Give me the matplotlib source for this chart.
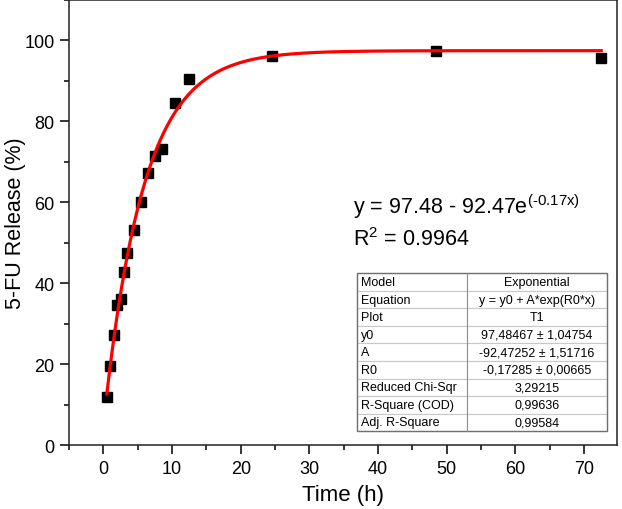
import numpy as np
import matplotlib.pyplot as plt
from matplotlib.patches import Rectangle

plt.rcParams['font.family'] = ['Liberation Sans', 'DejaVu Sans']
plt.rcParams['mathtext.default'] = 'regular'

# release data
time_h = [0.5, 1, 1.5, 2, 2.5, 3, 3.5, 4.5, 5.5, 6.5, 7.5, 8.5, 10.5, 12.5, 24.5, 48.5, 72.5]
release = [11.8, 19.6, 27.2, 34.6, 36.2, 42.8, 47.6, 53.3, 60.2, 67.3, 71.4, 73.3, 84.6, 90.6, 96.1, 97.4, 95.7]

# exponential fit parameters shown in the table
y0 = 97.48467
A = -92.47252
R0 = -0.17285

table_rows = [
    ['Model', 'Exponential'],
    ['Equation', 'y = y0 + A*exp(R0*x)'],
    ['Plot', 'T1'],
    ['y0', '97,48467 \u00b1 1,04754'],
    ['A', '-92,47252 \u00b1 1,51716'],
    ['R0', '-0,17285 \u00b1 0,00665'],
    ['Reduced Chi-Sqr', '3,29215'],
    ['R-Square (COD)', '0,99636'],
    ['Adj. R-Square', '0,99584'],
]

fig = plt.figure(figsize=(6.22, 5.10), dpi=100)
ax = fig.add_axes([0.111, 0.125, 0.881, 0.873])

ax.plot(time_h, release, 's', color='black', markersize=7, zorder=2)
xf = np.linspace(min(time_h), max(time_h), 400)
ax.plot(xf, y0 + A * np.exp(R0 * xf), color='red', lw=2.3, zorder=3)

ax.set_xlim(-5, 74.8)
ax.set_ylim(0, 110)
ax.set_xticks(np.arange(0, 71, 10))
ax.set_xticks(np.arange(-5, 75, 5), minor=True)
ax.set_yticks(np.arange(0, 101, 20))
ax.set_yticks(np.arange(0, 111, 10), minor=True)
ax.tick_params(which='major', direction='out', length=6.5, width=1.1, labelsize=13,
               colors='black', pad=4)
ax.tick_params(which='minor', direction='out', length=3.5, width=1.1)
for s in ax.spines.values():
    s.set_linewidth(1.1)
    s.set_color('#222222')

ax.set_xlabel('Time (h)', fontsize=16, labelpad=5)
ax.set_ylabel('5-FU Release (%)', fontsize=15.5)
ax.yaxis.set_label_coords(-0.078, 0.5)

ax.text(0.518, 0.537, 'y = 97.48 - 92.47e$^{(\u20100.17x)}$', transform=ax.transAxes,
        fontsize=15.5, va='center')
ax.text(0.518, 0.465, 'R$^{2}$ = 0.9964', transform=ax.transAxes,
        fontsize=15.5, va='center')

tb_box = [0.5255, 0.0315, 0.456, 0.355]
tb = ax.table(cellText=table_rows, colWidths=[0.44, 0.56], bbox=tb_box, zorder=5)
tb.auto_set_font_size(False)
for (r, c), cell in tb.get_celld().items():
    cell.set_fontsize(9)
    cell.set_edgecolor('#c8c8c8')
    cell.set_linewidth(0.8)
    if c == 0:
        cell.get_text().set_ha('left')
        cell.PAD = 0.04
    else:
        cell.get_text().set_ha('center')
ax.add_patch(Rectangle((tb_box[0], tb_box[1]), tb_box[2], tb_box[3], transform=ax.transAxes,
                       fill=False, edgecolor='#707070', lw=1.0, zorder=6))
ax.plot([tb_box[0] + 0.44 * tb_box[2]] * 2, [tb_box[1], tb_box[1] + tb_box[3]],
        transform=ax.transAxes, color='#909090', lw=0.8, zorder=6)

fig.savefig('out.png', dpi=100)
